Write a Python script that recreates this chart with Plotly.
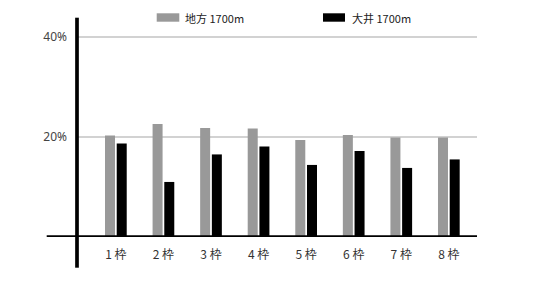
import plotly.graph_objects as go

categories = ["1 枠", "2 枠", "3 枠", "4 枠", "5 枠", "6 枠", "7 枠", "8 枠"]
series_names = ["地方 1700m", "大井 1700m"]
chihou = [20.3, 22.6, 21.8, 21.7, 19.4, 20.4, 19.9, 19.9]
ooi = [18.7, 11.0, 16.5, 18.1, 14.4, 17.2, 13.8, 15.5]
tick_vals = [20, 40]
tick_text = ["20%", "40%"]

colors = ["#999999", "#000000"]
cjk = "Noto Sans CJK JP"

W, H = 550, 300
ml, mr, mt, mb = 77, 73, 17, 63
pw, ph = W - ml - mr, H - mt - mb

fig = go.Figure()
for name, vals, col in zip(series_names, [chihou, ooi], colors):
    fig.add_trace(go.Bar(x=categories, y=vals, name=name, marker_color=col,
                         marker_line_width=0, showlegend=False))

ymax = ph / 5.005

def px_x(p):
    return (p - ml) / pw

def px_y(p):
    return (H - mb - p) / ph

shapes = [
    # horizontal base axis
    dict(type="line", xref="paper", yref="y", x0=px_x(46.7), x1=px_x(477), y0=0, y1=0,
         line=dict(color="black", width=3.6), layer="above"),
    # vertical axis
    dict(type="line", xref="paper", yref="paper", x0=0, x1=0, y0=px_y(267.7), y1=px_y(17.7),
         line=dict(color="black", width=3.7), layer="above"),
]
annotations = []
legend_pos = [(156.7, 179.3, 183), (323, 345, 350)]
for (sx0, sx1, tx), name, col in zip(legend_pos, series_names, colors):
    shapes.append(dict(type="rect", xref="paper", yref="paper",
                       x0=px_x(sx0), x1=px_x(sx1), y0=px_y(21.7), y1=px_y(13.3),
                       fillcolor=col, line=dict(width=0)))
    annotations.append(dict(xref="paper", yref="paper", x=px_x(tx), y=px_y(17.5),
                            text=name, showarrow=False, xanchor="left", yanchor="middle",
                            font=dict(family=cjk, size=11, color="#222222")))

fig.update_layout(
    width=W, height=H,
    margin=dict(l=ml, r=mr, t=mt, b=mb),
    paper_bgcolor="white", plot_bgcolor="white",
    barmode="group", bargap=0.508, bargroupgap=0.145,
    shapes=shapes, annotations=annotations,
    xaxis=dict(range=[-0.817, 7.592], showgrid=False, zeroline=False, showline=False,
               ticks="", tickfont=dict(family=cjk, size=12, color="#333333"),
               ticklabelstandoff=9),
    yaxis=dict(range=[0, ymax], tickvals=tick_vals, ticktext=tick_text,
               showgrid=True, gridcolor="#d2d2d2", gridwidth=1.5,
               zeroline=False, showline=False, ticks="",
               tickfont=dict(family="Noto Sans", size=12, color="#444444"),
               ticklabelstandoff=9),
    showlegend=False,
)

fig.write_html("out.html")
